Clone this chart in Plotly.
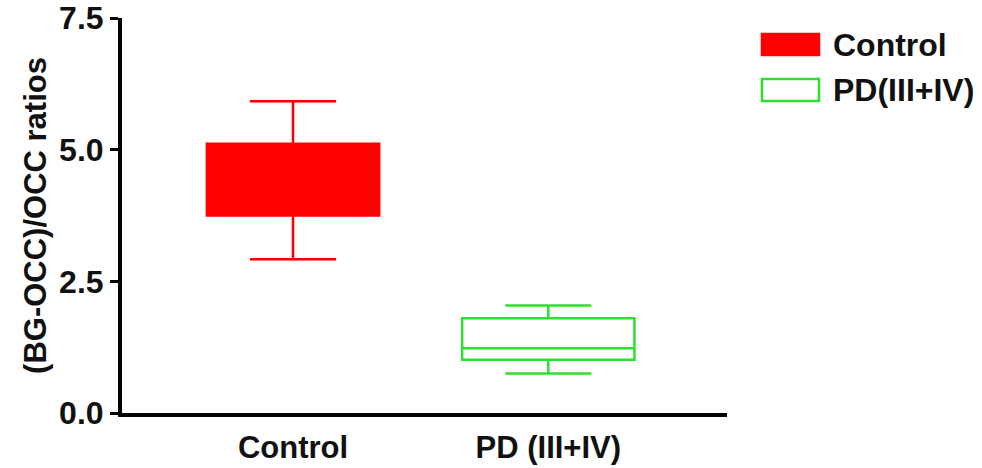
import plotly.graph_objects as go

# Data
groups = ["Control", "PD (III+IV)"]
legend_names = ["Control", "PD(III+IV)"]
lower = [2.92, 0.75]
q1 = [3.75, 1.01]
median = [4.40, 1.23]
q3 = [5.11, 1.80]
upper = [5.92, 2.04]
y_ticks = [0.0, 2.5, 5.0, 7.5]
y_ticklabels = ["0.0", "2.5", "5.0", "7.5"]

RED = "#ff0000"
GREEN = "#2ee02e"
line_colors = [RED, GREEN]
fill_colors = [RED, "#ffffff"]

FONT = "Liberation Sans, Arial, sans-serif"
FS = 32

fig = go.Figure()
for i, g in enumerate(groups):
    fig.add_trace(go.Box(
        x=[g],
        q1=[q1[i]], median=[median[i]], q3=[q3[i]],
        lowerfence=[lower[i]], upperfence=[upper[i]],
        name=legend_names[i],
        width=0.675,
        whiskerwidth=0.5,
        fillcolor=fill_colors[i],
        line=dict(color=line_colors[i], width=2.5),
        boxpoints=False,
        showlegend=False,
    ))

fig.update_layout(
    width=982, height=468,
    margin=dict(l=122, r=255, t=18, b=55, autoexpand=False),
    paper_bgcolor="white", plot_bgcolor="white",
    boxmode="overlay",
    font=dict(family=FONT, size=FS, color="black"),
)
fig.update_xaxes(
    range=[-0.67, 1.7], automargin=False,
    showline=True, linecolor="black", linewidth=4,
    showgrid=False, zeroline=False, ticks="",
    tickfont=dict(family=FONT, size=31, color="#111111", weight="bold"),
    ticklabelstandoff=4,
)
fig.update_yaxes(
    range=[0, 7.5], automargin=False,
    tickvals=y_ticks, ticktext=y_ticklabels,
    showline=True, linecolor="black", linewidth=4,
    showgrid=False, zeroline=False,
    ticks="outside", ticklen=8, tickwidth=3, tickcolor="black",
    tickfont=dict(family=FONT, size=FS, color="#111111", weight="bold"),
    title=dict(text="(BG-OCC)/OCC ratios",
               font=dict(family=FONT, size=31, color="#111111", weight="bold"),
               standoff=4),
)

# Legend drawn with large rectangular swatches (paper coords)
W, H = 982, 468
ml, mr, mt, mb = 122, 255, 18, 55
pw, ph = W - ml - mr, H - mt - mb

def px_to_paper(x, y):
    return (x - ml) / pw, (H - mb - y) / ph

leg_rows = [(34, 55, 45), (79, 101, 90)]
for i, name in enumerate(legend_names):
    y0p, y1p, ytp = leg_rows[i]
    x0, y0 = px_to_paper(762, y1p)
    x1, y1 = px_to_paper(819, y0p)
    fig.add_shape(type="rect", xref="paper", yref="paper",
                  x0=x0, y0=y0, x1=x1, y1=y1,
                  fillcolor=fill_colors[i],
                  line=dict(color=line_colors[i], width=2.5))
    tx, ty = px_to_paper(831, ytp)
    fig.add_annotation(xref="paper", yref="paper", x=tx, y=ty,
                       text=name, showarrow=False,
                       xanchor="left", yanchor="middle",
                       font=dict(family=FONT, size=FS, color="#111111", weight="bold"))

fig.write_html("out.html")
